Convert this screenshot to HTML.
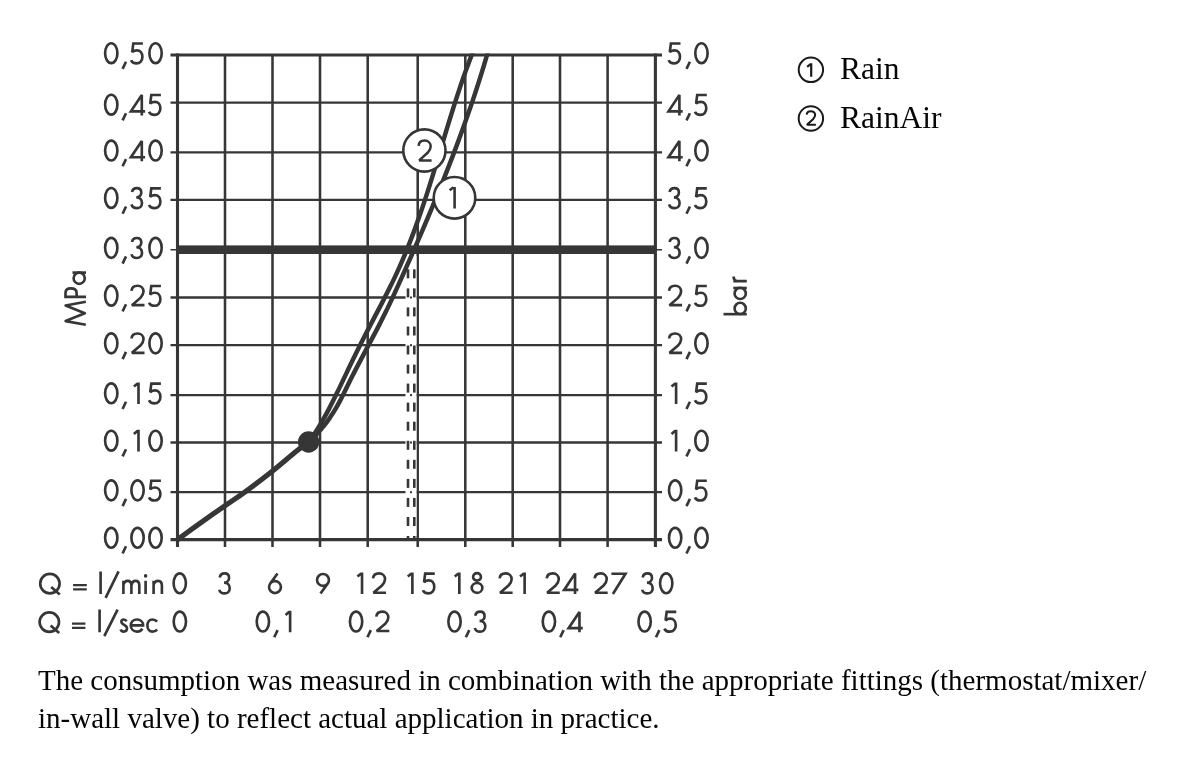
<!DOCTYPE html>
<html><head><meta charset="utf-8"><style>
html,body{margin:0;padding:0;background:#fff;}
body{width:1200px;height:765px;overflow:hidden;position:relative;font-family:"Liberation Sans",sans-serif;}
svg{position:absolute;left:0;top:0;will-change:transform;}
</style></head><body>
<svg width="1200" height="765" viewBox="0 0 1200 765">
<line x1="225.0" y1="55.0" x2="225.0" y2="547" stroke="#363636" stroke-width="2.55"/>
<line x1="272.5" y1="55.0" x2="272.5" y2="547" stroke="#363636" stroke-width="2.55"/>
<line x1="320.0" y1="55.0" x2="320.0" y2="547" stroke="#363636" stroke-width="2.55"/>
<line x1="367.7" y1="55.0" x2="367.7" y2="547" stroke="#363636" stroke-width="2.55"/>
<line x1="417.7" y1="55.0" x2="417.7" y2="547" stroke="#363636" stroke-width="2.55"/>
<line x1="465.3" y1="55.0" x2="465.3" y2="547" stroke="#363636" stroke-width="2.55"/>
<line x1="512.7" y1="55.0" x2="512.7" y2="547" stroke="#363636" stroke-width="2.55"/>
<line x1="560.0" y1="55.0" x2="560.0" y2="547" stroke="#363636" stroke-width="2.55"/>
<line x1="607.6" y1="55.0" x2="607.6" y2="547" stroke="#363636" stroke-width="2.55"/>
<line x1="170.5" y1="102.6" x2="662" y2="102.6" stroke="#363636" stroke-width="2.3"/>
<line x1="170.5" y1="152.4" x2="662" y2="152.4" stroke="#363636" stroke-width="2.3"/>
<line x1="170.5" y1="199.8" x2="662" y2="199.8" stroke="#363636" stroke-width="2.3"/>
<line x1="170.5" y1="297.5" x2="662" y2="297.5" stroke="#363636" stroke-width="2.3"/>
<line x1="170.5" y1="345.2" x2="662" y2="345.2" stroke="#363636" stroke-width="2.3"/>
<line x1="170.5" y1="395.1" x2="662" y2="395.1" stroke="#363636" stroke-width="2.3"/>
<line x1="170.5" y1="442.5" x2="662" y2="442.5" stroke="#363636" stroke-width="2.3"/>
<line x1="170.5" y1="492.2" x2="662" y2="492.2" stroke="#363636" stroke-width="2.3"/>
<line x1="170.5" y1="249.7" x2="662" y2="249.7" stroke="#363636" stroke-width="1.6"/>
<rect x="177.5" y="245.4" width="477.9" height="8.6" fill="#363636"/>
<line x1="177.5" y1="53.5" x2="177.5" y2="547" stroke="#363636" stroke-width="3.1"/>
<line x1="655.4" y1="53.5" x2="655.4" y2="547" stroke="#363636" stroke-width="3.1"/>
<line x1="170.5" y1="55" x2="662" y2="55" stroke="#363636" stroke-width="3.1"/>
<line x1="170.5" y1="539.6" x2="662" y2="539.6" stroke="#363636" stroke-width="3.1"/>
<rect x="405.5" y="256" width="11" height="280" fill="#fff"/>
<rect x="410" y="296.5" width="2" height="2" fill="#363636"/>
<rect x="410" y="344.2" width="2" height="2" fill="#363636"/>
<rect x="410" y="394.1" width="2" height="2" fill="#363636"/>
<rect x="410" y="441.5" width="2" height="2" fill="#363636"/>
<rect x="410" y="491.2" width="2" height="2" fill="#363636"/>
<line x1="408.0" y1="269.3" x2="408.0" y2="278.3" stroke="#363636" stroke-width="2.6"/>
<line x1="414.3" y1="269.3" x2="414.3" y2="278.3" stroke="#363636" stroke-width="2.6"/>
<line x1="408.0" y1="288.4" x2="408.0" y2="297.4" stroke="#363636" stroke-width="2.6"/>
<line x1="414.3" y1="288.4" x2="414.3" y2="297.4" stroke="#363636" stroke-width="2.6"/>
<line x1="408.0" y1="307.4" x2="408.0" y2="316.4" stroke="#363636" stroke-width="2.6"/>
<line x1="414.3" y1="307.4" x2="414.3" y2="316.4" stroke="#363636" stroke-width="2.6"/>
<line x1="408.0" y1="326.5" x2="408.0" y2="335.5" stroke="#363636" stroke-width="2.6"/>
<line x1="414.3" y1="326.5" x2="414.3" y2="335.5" stroke="#363636" stroke-width="2.6"/>
<line x1="408.0" y1="345.5" x2="408.0" y2="354.5" stroke="#363636" stroke-width="2.6"/>
<line x1="414.3" y1="345.5" x2="414.3" y2="354.5" stroke="#363636" stroke-width="2.6"/>
<line x1="408.0" y1="364.6" x2="408.0" y2="373.6" stroke="#363636" stroke-width="2.6"/>
<line x1="414.3" y1="364.6" x2="414.3" y2="373.6" stroke="#363636" stroke-width="2.6"/>
<line x1="408.0" y1="383.6" x2="408.0" y2="392.6" stroke="#363636" stroke-width="2.6"/>
<line x1="414.3" y1="383.6" x2="414.3" y2="392.6" stroke="#363636" stroke-width="2.6"/>
<line x1="408.0" y1="402.6" x2="408.0" y2="411.6" stroke="#363636" stroke-width="2.6"/>
<line x1="414.3" y1="402.6" x2="414.3" y2="411.6" stroke="#363636" stroke-width="2.6"/>
<line x1="408.0" y1="421.7" x2="408.0" y2="430.7" stroke="#363636" stroke-width="2.6"/>
<line x1="414.3" y1="421.7" x2="414.3" y2="430.7" stroke="#363636" stroke-width="2.6"/>
<line x1="408.0" y1="440.8" x2="408.0" y2="449.8" stroke="#363636" stroke-width="2.6"/>
<line x1="414.3" y1="440.8" x2="414.3" y2="449.8" stroke="#363636" stroke-width="2.6"/>
<line x1="408.0" y1="459.8" x2="408.0" y2="468.8" stroke="#363636" stroke-width="2.6"/>
<line x1="414.3" y1="459.8" x2="414.3" y2="468.8" stroke="#363636" stroke-width="2.6"/>
<line x1="408.0" y1="478.9" x2="408.0" y2="487.9" stroke="#363636" stroke-width="2.6"/>
<line x1="414.3" y1="478.9" x2="414.3" y2="487.9" stroke="#363636" stroke-width="2.6"/>
<line x1="408.0" y1="497.9" x2="408.0" y2="506.9" stroke="#363636" stroke-width="2.6"/>
<line x1="414.3" y1="497.9" x2="414.3" y2="506.9" stroke="#363636" stroke-width="2.6"/>
<line x1="408.0" y1="517.0" x2="408.0" y2="526.0" stroke="#363636" stroke-width="2.6"/>
<line x1="414.3" y1="517.0" x2="414.3" y2="526.0" stroke="#363636" stroke-width="2.6"/>
<line x1="408.0" y1="536.0" x2="408.0" y2="540.0" stroke="#363636" stroke-width="2.6"/>
<line x1="414.3" y1="536.0" x2="414.3" y2="540.0" stroke="#363636" stroke-width="2.6"/>
<clipPath id="cp"><rect x="170" y="53.6" width="500" height="500"/></clipPath>
<path d="M488.44,50.00 L487.12,54.60 L486.24,57.60 L485.36,60.60 L484.46,63.60 L483.56,66.60 L482.64,69.60 L481.72,72.60 L480.79,75.60 L479.85,78.60 L478.90,81.60 L477.94,84.60 L476.97,87.60 L475.99,90.60 L475.01,93.60 L474.01,96.60 L473.01,99.60 L472.00,102.60 L470.98,105.60 L469.96,108.60 L468.92,111.60 L467.88,114.60 L466.83,117.60 L465.77,120.60 L464.70,123.60 L463.63,126.60 L462.55,129.60 L461.46,132.60 L460.36,135.60 L459.26,138.60 L458.15,141.60 L457.03,144.60 L455.90,147.60 L454.77,150.60 L453.63,153.60 L452.49,156.60 L451.33,159.60 L450.17,162.60 L449.01,165.60 L447.84,168.60 L446.66,171.60 L445.47,174.60 L444.28,177.60 L443.09,180.60 L441.88,183.60 L440.68,186.60 L439.46,189.60 L438.24,192.60 L437.02,195.60 L435.78,198.60 L434.55,201.60 L433.31,204.60 L432.06,207.60 L430.81,210.60 L429.55,213.60 L428.29,216.60 L427.02,219.60 L425.75,222.60 L424.47,225.60 L423.19,228.60 L421.90,231.60 L420.61,234.60 L419.31,237.60 L418.01,240.60 L416.71,243.60 L415.40,246.60 L414.09,249.60 L412.78,252.60 L411.46,255.60 L410.13,258.60 L408.80,261.60 L407.47,264.60 L406.14,267.60 L404.80,270.60 L403.46,273.60 L402.12,276.60 L400.77,279.60 L399.42,282.60 L398.06,285.60 L396.70,288.60 L395.33,291.60 L393.96,294.60 L392.57,297.60 L391.17,300.60 L389.76,303.60 L388.33,306.60 L386.89,309.60 L385.43,312.60 L383.95,315.60 L382.45,318.60 L380.93,321.60 L379.39,324.60 L377.83,327.60 L376.26,330.60 L374.68,333.60 L373.09,336.60 L371.50,339.60 L369.90,342.60 L368.30,345.60 L366.70,348.60 L365.10,351.60 L363.51,354.60 L361.92,357.60 L360.34,360.60 L358.76,363.60 L357.20,366.60 L355.65,369.60 L354.11,372.60 L352.59,375.60 L351.09,378.60 L349.61,381.60 L348.14,384.60 L346.67,387.60 L345.20,390.60 L343.72,393.60 L342.21,396.60 L340.65,399.60 L339.06,402.60 L337.40,405.60 L335.67,408.60 L333.86,411.60 L331.97,414.60 L329.97,417.60 L327.86,420.60 L325.63,423.60 L323.26,426.60 L320.76,429.60 L318.10,432.60 L315.27,435.60 L312.27,438.60 L309.09,441.60 L308.60,442.00" fill="none" stroke="#363636" stroke-width="4.5" stroke-linejoin="round" clip-path="url(#cp)"/>
<path d="M473.58,50.00 L471.84,54.60 L470.69,57.60 L469.55,60.60 L468.43,63.60 L467.32,66.60 L466.23,69.60 L465.15,72.60 L464.08,75.60 L463.03,78.60 L461.99,81.60 L460.96,84.60 L459.94,87.60 L458.94,90.60 L457.94,93.60 L456.96,96.60 L455.98,99.60 L455.01,102.60 L454.05,105.60 L453.10,108.60 L452.16,111.60 L451.22,114.60 L450.29,117.60 L449.36,120.60 L448.44,123.60 L447.52,126.60 L446.60,129.60 L445.69,132.60 L444.79,135.60 L443.88,138.60 L442.97,141.60 L442.07,144.60 L441.17,147.60 L440.27,150.60 L439.36,153.60 L438.46,156.60 L437.55,159.60 L436.64,162.60 L435.73,165.60 L434.82,168.60 L433.90,171.60 L432.97,174.60 L432.05,177.60 L431.11,180.60 L430.17,183.60 L429.23,186.60 L428.28,189.60 L427.31,192.60 L426.35,195.60 L425.37,198.60 L424.38,201.60 L423.38,204.60 L422.38,207.60 L421.36,210.60 L420.33,213.60 L419.29,216.60 L418.23,219.60 L417.17,222.60 L416.09,225.60 L414.99,228.60 L413.88,231.60 L412.76,234.60 L411.61,237.60 L410.46,240.60 L409.28,243.60 L408.09,246.60 L406.88,249.60 L405.65,252.60 L404.41,255.60 L403.14,258.60 L401.85,261.60 L400.54,264.60 L399.21,267.60 L397.86,270.60 L396.49,273.60 L395.09,276.60 L393.67,279.60 L392.23,282.60 L390.76,285.60 L389.28,288.60 L387.77,291.60 L386.25,294.60 L384.72,297.60 L383.17,300.60 L381.62,303.60 L380.05,306.60 L378.48,309.60 L376.91,312.60 L375.33,315.60 L373.76,318.60 L372.19,321.60 L370.62,324.60 L369.06,327.60 L367.51,330.60 L365.97,333.60 L364.44,336.60 L362.92,339.60 L361.41,342.60 L359.91,345.60 L358.41,348.60 L356.93,351.60 L355.45,354.60 L353.98,357.60 L352.51,360.60 L351.05,363.60 L349.60,366.60 L348.15,369.60 L346.71,372.60 L345.27,375.60 L343.84,378.60 L342.41,381.60 L340.98,384.60 L339.54,387.60 L338.11,390.60 L336.66,393.60 L335.20,396.60 L333.72,399.60 L332.22,402.60 L330.69,405.60 L329.13,408.60 L327.54,411.60 L325.91,414.60 L324.25,417.60 L322.53,420.60 L320.77,423.60 L318.96,426.60 L317.09,429.60 L315.16,432.60 L313.16,435.60 L311.10,438.60 L308.97,441.60 L308.60,442.00" fill="none" stroke="#363636" stroke-width="4.5" stroke-linejoin="round" clip-path="url(#cp)"/>
<path d="M308.6,442.0 C306.6,443.5 302.3,446.4 296.3,451.2 C290.3,456.0 281.1,464.2 272.5,471.0 C263.9,477.8 252.8,486.4 244.8,492.2 C236.9,498.0 232.5,500.5 224.8,505.9 C217.1,511.2 206.4,518.7 198.5,524.3 C190.6,529.9 181.0,537.0 177.5,539.6" fill="none" stroke="#363636" stroke-width="5.2" stroke-linecap="butt"/>
<circle cx="308.6" cy="442" r="10.7" fill="#363636"/>
<circle cx="424.4" cy="150.5" r="21.1" fill="#fff" stroke="#363636" stroke-width="2.6"/>
<circle cx="454.5" cy="197.8" r="20.8" fill="#fff" stroke="#363636" stroke-width="2.6"/>
<path d="M418.6,145.8 C418.9,142.4 421.3,140.6 424.6,140.6 C428.3,140.6 430.7,143.2 430.7,146.5 C430.7,149 429.4,150.8 427.6,152.8 L419.2,160.4 L431.6,160.4" fill="none" stroke="#363636" stroke-width="2.5" stroke-linejoin="miter" stroke-miterlimit="2"/>
<path d="M449.6,190.2 L453.6,187.3 M454.6,186.9 L454.6,208.5" fill="none" stroke="#363636" stroke-width="2.6"/>
<g fill="none" stroke="#363636" stroke-width="2.65" stroke-linejoin="miter" stroke-miterlimit="2.2"><path transform="translate(103.60,63.90)" d="M1.5,-10.75 A6.15,9.95 0 1,0 13.8,-10.75 A6.15,9.95 0 1,0 1.5,-10.75"/><path transform="translate(121.60,63.90)" d="M4.4,-2.2 L1.0,5.0"/><path transform="translate(129.90,63.90)" d="M13.0,-20.4 L3.4,-20.4 L2.3,-11.8 C3.6,-13 5.2,-13.6 7.0,-13.6 C10.3,-13.6 12.5,-11 12.5,-7.1 C12.5,-3.1 10.1,-0.6 6.6,-0.6 C4.0,-0.6 2.0,-1.7 1.1,-3.7"/><path transform="translate(147.90,63.90)" d="M1.5,-10.75 A6.15,9.95 0 1,0 13.8,-10.75 A6.15,9.95 0 1,0 1.5,-10.75"/><path transform="translate(667.50,63.90)" d="M13.0,-20.4 L3.4,-20.4 L2.3,-11.8 C3.6,-13 5.2,-13.6 7.0,-13.6 C10.3,-13.6 12.5,-11 12.5,-7.1 C12.5,-3.1 10.1,-0.6 6.6,-0.6 C4.0,-0.6 2.0,-1.7 1.1,-3.7"/><path transform="translate(685.50,63.90)" d="M4.4,-2.2 L1.0,5.0"/><path transform="translate(693.80,63.90)" d="M1.5,-10.75 A6.15,9.95 0 1,0 13.8,-10.75 A6.15,9.95 0 1,0 1.5,-10.75"/><path transform="translate(103.60,115.40)" d="M1.5,-10.75 A6.15,9.95 0 1,0 13.8,-10.75 A6.15,9.95 0 1,0 1.5,-10.75"/><path transform="translate(121.60,115.40)" d="M4.4,-2.2 L1.0,5.0"/><path transform="translate(129.90,115.40)" d="M15.2,-4.1 L1.0,-4.1 L11.9,-20.4 L11.9,0"/><path transform="translate(147.90,115.40)" d="M13.0,-20.4 L3.4,-20.4 L2.3,-11.8 C3.6,-13 5.2,-13.6 7.0,-13.6 C10.3,-13.6 12.5,-11 12.5,-7.1 C12.5,-3.1 10.1,-0.6 6.6,-0.6 C4.0,-0.6 2.0,-1.7 1.1,-3.7"/><path transform="translate(667.50,115.40)" d="M15.2,-4.1 L1.0,-4.1 L11.9,-20.4 L11.9,0"/><path transform="translate(685.50,115.40)" d="M4.4,-2.2 L1.0,5.0"/><path transform="translate(693.80,115.40)" d="M13.0,-20.4 L3.4,-20.4 L2.3,-11.8 C3.6,-13 5.2,-13.6 7.0,-13.6 C10.3,-13.6 12.5,-11 12.5,-7.1 C12.5,-3.1 10.1,-0.6 6.6,-0.6 C4.0,-0.6 2.0,-1.7 1.1,-3.7"/><path transform="translate(103.60,161.30)" d="M1.5,-10.75 A6.15,9.95 0 1,0 13.8,-10.75 A6.15,9.95 0 1,0 1.5,-10.75"/><path transform="translate(121.60,161.30)" d="M4.4,-2.2 L1.0,5.0"/><path transform="translate(129.90,161.30)" d="M15.2,-4.1 L1.0,-4.1 L11.9,-20.4 L11.9,0"/><path transform="translate(147.90,161.30)" d="M1.5,-10.75 A6.15,9.95 0 1,0 13.8,-10.75 A6.15,9.95 0 1,0 1.5,-10.75"/><path transform="translate(667.50,161.30)" d="M15.2,-4.1 L1.0,-4.1 L11.9,-20.4 L11.9,0"/><path transform="translate(685.50,161.30)" d="M4.4,-2.2 L1.0,5.0"/><path transform="translate(693.80,161.30)" d="M1.5,-10.75 A6.15,9.95 0 1,0 13.8,-10.75 A6.15,9.95 0 1,0 1.5,-10.75"/><path transform="translate(103.60,208.70)" d="M1.5,-10.75 A6.15,9.95 0 1,0 13.8,-10.75 A6.15,9.95 0 1,0 1.5,-10.75"/><path transform="translate(121.60,208.70)" d="M4.4,-2.2 L1.0,5.0"/><path transform="translate(129.90,208.70)" d="M2.1,-16.6 C2.6,-19.3 4.4,-20.6 6.9,-20.6 C9.6,-20.6 11.4,-18.8 11.4,-16.1 C11.4,-13.2 9.3,-11.4 6.4,-11.4 C9.8,-11.4 12.1,-9.1 12.1,-5.8 C12.1,-2.6 9.9,-0.6 6.9,-0.6 C4.2,-0.6 2.2,-1.9 1.6,-4.3"/><path transform="translate(147.90,208.70)" d="M13.0,-20.4 L3.4,-20.4 L2.3,-11.8 C3.6,-13 5.2,-13.6 7.0,-13.6 C10.3,-13.6 12.5,-11 12.5,-7.1 C12.5,-3.1 10.1,-0.6 6.6,-0.6 C4.0,-0.6 2.0,-1.7 1.1,-3.7"/><path transform="translate(667.50,208.70)" d="M2.1,-16.6 C2.6,-19.3 4.4,-20.6 6.9,-20.6 C9.6,-20.6 11.4,-18.8 11.4,-16.1 C11.4,-13.2 9.3,-11.4 6.4,-11.4 C9.8,-11.4 12.1,-9.1 12.1,-5.8 C12.1,-2.6 9.9,-0.6 6.9,-0.6 C4.2,-0.6 2.2,-1.9 1.6,-4.3"/><path transform="translate(685.50,208.70)" d="M4.4,-2.2 L1.0,5.0"/><path transform="translate(693.80,208.70)" d="M13.0,-20.4 L3.4,-20.4 L2.3,-11.8 C3.6,-13 5.2,-13.6 7.0,-13.6 C10.3,-13.6 12.5,-11 12.5,-7.1 C12.5,-3.1 10.1,-0.6 6.6,-0.6 C4.0,-0.6 2.0,-1.7 1.1,-3.7"/><path transform="translate(103.60,258.60)" d="M1.5,-10.75 A6.15,9.95 0 1,0 13.8,-10.75 A6.15,9.95 0 1,0 1.5,-10.75"/><path transform="translate(121.60,258.60)" d="M4.4,-2.2 L1.0,5.0"/><path transform="translate(129.90,258.60)" d="M2.1,-16.6 C2.6,-19.3 4.4,-20.6 6.9,-20.6 C9.6,-20.6 11.4,-18.8 11.4,-16.1 C11.4,-13.2 9.3,-11.4 6.4,-11.4 C9.8,-11.4 12.1,-9.1 12.1,-5.8 C12.1,-2.6 9.9,-0.6 6.9,-0.6 C4.2,-0.6 2.2,-1.9 1.6,-4.3"/><path transform="translate(147.90,258.60)" d="M1.5,-10.75 A6.15,9.95 0 1,0 13.8,-10.75 A6.15,9.95 0 1,0 1.5,-10.75"/><path transform="translate(667.50,258.60)" d="M2.1,-16.6 C2.6,-19.3 4.4,-20.6 6.9,-20.6 C9.6,-20.6 11.4,-18.8 11.4,-16.1 C11.4,-13.2 9.3,-11.4 6.4,-11.4 C9.8,-11.4 12.1,-9.1 12.1,-5.8 C12.1,-2.6 9.9,-0.6 6.9,-0.6 C4.2,-0.6 2.2,-1.9 1.6,-4.3"/><path transform="translate(685.50,258.60)" d="M4.4,-2.2 L1.0,5.0"/><path transform="translate(693.80,258.60)" d="M1.5,-10.75 A6.15,9.95 0 1,0 13.8,-10.75 A6.15,9.95 0 1,0 1.5,-10.75"/><path transform="translate(103.60,306.40)" d="M1.5,-10.75 A6.15,9.95 0 1,0 13.8,-10.75 A6.15,9.95 0 1,0 1.5,-10.75"/><path transform="translate(121.60,306.40)" d="M4.4,-2.2 L1.0,5.0"/><path transform="translate(129.90,306.40)" d="M1.6,-15.6 C1.9,-19 4.3,-20.6 7.6,-20.6 C11.3,-20.6 13.6,-18.1 13.6,-14.8 C13.6,-12.3 12.3,-10.5 10.5,-8.5 L2.0,-1.25 L14.6,-1.25"/><path transform="translate(147.90,306.40)" d="M13.0,-20.4 L3.4,-20.4 L2.3,-11.8 C3.6,-13 5.2,-13.6 7.0,-13.6 C10.3,-13.6 12.5,-11 12.5,-7.1 C12.5,-3.1 10.1,-0.6 6.6,-0.6 C4.0,-0.6 2.0,-1.7 1.1,-3.7"/><path transform="translate(667.50,306.40)" d="M1.6,-15.6 C1.9,-19 4.3,-20.6 7.6,-20.6 C11.3,-20.6 13.6,-18.1 13.6,-14.8 C13.6,-12.3 12.3,-10.5 10.5,-8.5 L2.0,-1.25 L14.6,-1.25"/><path transform="translate(685.50,306.40)" d="M4.4,-2.2 L1.0,5.0"/><path transform="translate(693.80,306.40)" d="M13.0,-20.4 L3.4,-20.4 L2.3,-11.8 C3.6,-13 5.2,-13.6 7.0,-13.6 C10.3,-13.6 12.5,-11 12.5,-7.1 C12.5,-3.1 10.1,-0.6 6.6,-0.6 C4.0,-0.6 2.0,-1.7 1.1,-3.7"/><path transform="translate(103.60,354.10)" d="M1.5,-10.75 A6.15,9.95 0 1,0 13.8,-10.75 A6.15,9.95 0 1,0 1.5,-10.75"/><path transform="translate(121.60,354.10)" d="M4.4,-2.2 L1.0,5.0"/><path transform="translate(129.90,354.10)" d="M1.6,-15.6 C1.9,-19 4.3,-20.6 7.6,-20.6 C11.3,-20.6 13.6,-18.1 13.6,-14.8 C13.6,-12.3 12.3,-10.5 10.5,-8.5 L2.0,-1.25 L14.6,-1.25"/><path transform="translate(147.90,354.10)" d="M1.5,-10.75 A6.15,9.95 0 1,0 13.8,-10.75 A6.15,9.95 0 1,0 1.5,-10.75"/><path transform="translate(667.50,354.10)" d="M1.6,-15.6 C1.9,-19 4.3,-20.6 7.6,-20.6 C11.3,-20.6 13.6,-18.1 13.6,-14.8 C13.6,-12.3 12.3,-10.5 10.5,-8.5 L2.0,-1.25 L14.6,-1.25"/><path transform="translate(685.50,354.10)" d="M4.4,-2.2 L1.0,5.0"/><path transform="translate(693.80,354.10)" d="M1.5,-10.75 A6.15,9.95 0 1,0 13.8,-10.75 A6.15,9.95 0 1,0 1.5,-10.75"/><path transform="translate(103.60,404.00)" d="M1.5,-10.75 A6.15,9.95 0 1,0 13.8,-10.75 A6.15,9.95 0 1,0 1.5,-10.75"/><path transform="translate(121.60,404.00)" d="M4.4,-2.2 L1.0,5.0"/><path transform="translate(129.90,404.00)" d="M4.0,-17.4 L7.8,-20.6 M8.6,-21.6 V0"/><path transform="translate(147.90,404.00)" d="M13.0,-20.4 L3.4,-20.4 L2.3,-11.8 C3.6,-13 5.2,-13.6 7.0,-13.6 C10.3,-13.6 12.5,-11 12.5,-7.1 C12.5,-3.1 10.1,-0.6 6.6,-0.6 C4.0,-0.6 2.0,-1.7 1.1,-3.7"/><path transform="translate(667.50,404.00)" d="M4.0,-17.4 L7.8,-20.6 M8.6,-21.6 V0"/><path transform="translate(685.50,404.00)" d="M4.4,-2.2 L1.0,5.0"/><path transform="translate(693.80,404.00)" d="M13.0,-20.4 L3.4,-20.4 L2.3,-11.8 C3.6,-13 5.2,-13.6 7.0,-13.6 C10.3,-13.6 12.5,-11 12.5,-7.1 C12.5,-3.1 10.1,-0.6 6.6,-0.6 C4.0,-0.6 2.0,-1.7 1.1,-3.7"/><path transform="translate(103.60,451.40)" d="M1.5,-10.75 A6.15,9.95 0 1,0 13.8,-10.75 A6.15,9.95 0 1,0 1.5,-10.75"/><path transform="translate(121.60,451.40)" d="M4.4,-2.2 L1.0,5.0"/><path transform="translate(129.90,451.40)" d="M4.0,-17.4 L7.8,-20.6 M8.6,-21.6 V0"/><path transform="translate(147.90,451.40)" d="M1.5,-10.75 A6.15,9.95 0 1,0 13.8,-10.75 A6.15,9.95 0 1,0 1.5,-10.75"/><path transform="translate(667.50,451.40)" d="M4.0,-17.4 L7.8,-20.6 M8.6,-21.6 V0"/><path transform="translate(685.50,451.40)" d="M4.4,-2.2 L1.0,5.0"/><path transform="translate(693.80,451.40)" d="M1.5,-10.75 A6.15,9.95 0 1,0 13.8,-10.75 A6.15,9.95 0 1,0 1.5,-10.75"/><path transform="translate(103.60,501.10)" d="M1.5,-10.75 A6.15,9.95 0 1,0 13.8,-10.75 A6.15,9.95 0 1,0 1.5,-10.75"/><path transform="translate(121.60,501.10)" d="M4.4,-2.2 L1.0,5.0"/><path transform="translate(129.90,501.10)" d="M1.5,-10.75 A6.15,9.95 0 1,0 13.8,-10.75 A6.15,9.95 0 1,0 1.5,-10.75"/><path transform="translate(147.90,501.10)" d="M13.0,-20.4 L3.4,-20.4 L2.3,-11.8 C3.6,-13 5.2,-13.6 7.0,-13.6 C10.3,-13.6 12.5,-11 12.5,-7.1 C12.5,-3.1 10.1,-0.6 6.6,-0.6 C4.0,-0.6 2.0,-1.7 1.1,-3.7"/><path transform="translate(667.50,501.10)" d="M1.5,-10.75 A6.15,9.95 0 1,0 13.8,-10.75 A6.15,9.95 0 1,0 1.5,-10.75"/><path transform="translate(685.50,501.10)" d="M4.4,-2.2 L1.0,5.0"/><path transform="translate(693.80,501.10)" d="M13.0,-20.4 L3.4,-20.4 L2.3,-11.8 C3.6,-13 5.2,-13.6 7.0,-13.6 C10.3,-13.6 12.5,-11 12.5,-7.1 C12.5,-3.1 10.1,-0.6 6.6,-0.6 C4.0,-0.6 2.0,-1.7 1.1,-3.7"/><path transform="translate(103.60,548.50)" d="M1.5,-10.75 A6.15,9.95 0 1,0 13.8,-10.75 A6.15,9.95 0 1,0 1.5,-10.75"/><path transform="translate(121.60,548.50)" d="M4.4,-2.2 L1.0,5.0"/><path transform="translate(129.90,548.50)" d="M1.5,-10.75 A6.15,9.95 0 1,0 13.8,-10.75 A6.15,9.95 0 1,0 1.5,-10.75"/><path transform="translate(147.90,548.50)" d="M1.5,-10.75 A6.15,9.95 0 1,0 13.8,-10.75 A6.15,9.95 0 1,0 1.5,-10.75"/><path transform="translate(667.50,548.50)" d="M1.5,-10.75 A6.15,9.95 0 1,0 13.8,-10.75 A6.15,9.95 0 1,0 1.5,-10.75"/><path transform="translate(685.50,548.50)" d="M4.4,-2.2 L1.0,5.0"/><path transform="translate(693.80,548.50)" d="M1.5,-10.75 A6.15,9.95 0 1,0 13.8,-10.75 A6.15,9.95 0 1,0 1.5,-10.75"/><path transform="translate(172.10,594.00)" d="M1.5,-10.75 A6.15,9.95 0 1,0 13.8,-10.75 A6.15,9.95 0 1,0 1.5,-10.75"/><path transform="translate(217.65,594.00)" d="M2.1,-16.6 C2.6,-19.3 4.4,-20.6 6.9,-20.6 C9.6,-20.6 11.4,-18.8 11.4,-16.1 C11.4,-13.2 9.3,-11.4 6.4,-11.4 C9.8,-11.4 12.1,-9.1 12.1,-5.8 C12.1,-2.6 9.9,-0.6 6.9,-0.6 C4.2,-0.6 2.2,-1.9 1.6,-4.3"/><path transform="translate(267.70,594.00)" d="M9.8,-20.6 L2.46,-10.37 M13.25,-6.9 A5.95,5.95 0 1,1 1.35,-6.9 A5.95,5.95 0 1,1 13.25,-6.9"/><path transform="translate(315.70,594.00)" d="M4.8,-0.4 L12.14,-10.63 M1.35,-14.1 A5.95,5.95 0 1,1 13.25,-14.1 A5.95,5.95 0 1,1 1.35,-14.1"/><path transform="translate(353.43,594.00)" d="M4.0,-17.4 L7.8,-20.6 M8.6,-21.6 V0"/><path transform="translate(371.43,594.00)" d="M1.6,-15.6 C1.9,-19 4.3,-20.6 7.6,-20.6 C11.3,-20.6 13.6,-18.1 13.6,-14.8 C13.6,-12.3 12.3,-10.5 10.5,-8.5 L2.0,-1.25 L14.6,-1.25"/><path transform="translate(403.77,594.00)" d="M4.0,-17.4 L7.8,-20.6 M8.6,-21.6 V0"/><path transform="translate(421.77,594.00)" d="M13.0,-20.4 L3.4,-20.4 L2.3,-11.8 C3.6,-13 5.2,-13.6 7.0,-13.6 C10.3,-13.6 12.5,-11 12.5,-7.1 C12.5,-3.1 10.1,-0.6 6.6,-0.6 C4.0,-0.6 2.0,-1.7 1.1,-3.7"/><path transform="translate(450.73,594.00)" d="M4.0,-17.4 L7.8,-20.6 M8.6,-21.6 V0"/><path transform="translate(468.73,594.00)" d="M4.4,-17.1 A3.9,3.7 0 1,0 12.2,-17.1 A3.9,3.7 0 1,0 4.4,-17.1 M3.0,-6.1 A5.3,4.95 0 1,0 13.6,-6.1 A5.3,4.95 0 1,0 3.0,-6.1"/><path transform="translate(498.03,594.00)" d="M1.6,-15.6 C1.9,-19 4.3,-20.6 7.6,-20.6 C11.3,-20.6 13.6,-18.1 13.6,-14.8 C13.6,-12.3 12.3,-10.5 10.5,-8.5 L2.0,-1.25 L14.6,-1.25"/><path transform="translate(516.03,594.00)" d="M4.0,-17.4 L7.8,-20.6 M8.6,-21.6 V0"/><path transform="translate(545.15,594.00)" d="M1.6,-15.6 C1.9,-19 4.3,-20.6 7.6,-20.6 C11.3,-20.6 13.6,-18.1 13.6,-14.8 C13.6,-12.3 12.3,-10.5 10.5,-8.5 L2.0,-1.25 L14.6,-1.25"/><path transform="translate(563.15,594.00)" d="M15.2,-4.1 L1.0,-4.1 L11.9,-20.4 L11.9,0"/><path transform="translate(593.10,594.00)" d="M1.6,-15.6 C1.9,-19 4.3,-20.6 7.6,-20.6 C11.3,-20.6 13.6,-18.1 13.6,-14.8 C13.6,-12.3 12.3,-10.5 10.5,-8.5 L2.0,-1.25 L14.6,-1.25"/><path transform="translate(611.10,594.00)" d="M0.3,-20.3 L14.4,-20.3 L1.8,0"/><path transform="translate(640.57,594.00)" d="M2.1,-16.6 C2.6,-19.3 4.4,-20.6 6.9,-20.6 C9.6,-20.6 11.4,-18.8 11.4,-16.1 C11.4,-13.2 9.3,-11.4 6.4,-11.4 C9.8,-11.4 12.1,-9.1 12.1,-5.8 C12.1,-2.6 9.9,-0.6 6.9,-0.6 C4.2,-0.6 2.2,-1.9 1.6,-4.3"/><path transform="translate(658.57,594.00)" d="M1.5,-10.75 A6.15,9.95 0 1,0 13.8,-10.75 A6.15,9.95 0 1,0 1.5,-10.75"/><path transform="translate(172.20,632.30)" d="M1.5,-10.75 A6.15,9.95 0 1,0 13.8,-10.75 A6.15,9.95 0 1,0 1.5,-10.75"/><path transform="translate(255.23,632.30)" d="M1.5,-10.75 A6.15,9.95 0 1,0 13.8,-10.75 A6.15,9.95 0 1,0 1.5,-10.75"/><path transform="translate(273.23,632.30)" d="M4.4,-2.2 L1.0,5.0"/><path transform="translate(281.53,632.30)" d="M4.0,-17.4 L7.8,-20.6 M8.6,-21.6 V0"/><path transform="translate(348.43,632.30)" d="M1.5,-10.75 A6.15,9.95 0 1,0 13.8,-10.75 A6.15,9.95 0 1,0 1.5,-10.75"/><path transform="translate(366.43,632.30)" d="M4.4,-2.2 L1.0,5.0"/><path transform="translate(374.73,632.30)" d="M1.6,-15.6 C1.9,-19 4.3,-20.6 7.6,-20.6 C11.3,-20.6 13.6,-18.1 13.6,-14.8 C13.6,-12.3 12.3,-10.5 10.5,-8.5 L2.0,-1.25 L14.6,-1.25"/><path transform="translate(446.88,632.30)" d="M1.5,-10.75 A6.15,9.95 0 1,0 13.8,-10.75 A6.15,9.95 0 1,0 1.5,-10.75"/><path transform="translate(464.88,632.30)" d="M4.4,-2.2 L1.0,5.0"/><path transform="translate(473.18,632.30)" d="M2.1,-16.6 C2.6,-19.3 4.4,-20.6 6.9,-20.6 C9.6,-20.6 11.4,-18.8 11.4,-16.1 C11.4,-13.2 9.3,-11.4 6.4,-11.4 C9.8,-11.4 12.1,-9.1 12.1,-5.8 C12.1,-2.6 9.9,-0.6 6.9,-0.6 C4.2,-0.6 2.2,-1.9 1.6,-4.3"/><path transform="translate(541.25,632.30)" d="M1.5,-10.75 A6.15,9.95 0 1,0 13.8,-10.75 A6.15,9.95 0 1,0 1.5,-10.75"/><path transform="translate(559.25,632.30)" d="M4.4,-2.2 L1.0,5.0"/><path transform="translate(567.55,632.30)" d="M15.2,-4.1 L1.0,-4.1 L11.9,-20.4 L11.9,0"/><path transform="translate(636.98,632.30)" d="M1.5,-10.75 A6.15,9.95 0 1,0 13.8,-10.75 A6.15,9.95 0 1,0 1.5,-10.75"/><path transform="translate(654.98,632.30)" d="M4.4,-2.2 L1.0,5.0"/><path transform="translate(663.27,632.30)" d="M13.0,-20.4 L3.4,-20.4 L2.3,-11.8 C3.6,-13 5.2,-13.6 7.0,-13.6 C10.3,-13.6 12.5,-11 12.5,-7.1 C12.5,-3.1 10.1,-0.6 6.6,-0.6 C4.0,-0.6 2.0,-1.7 1.1,-3.7"/><circle cx="49.9" cy="583.6" r="9.7"/><path d="M51.2,586.9 L59.8,594.4"/><path d="M73.1,585.2 H86.8 M73.1,589.4 H86.8" stroke-width="2.2"/><path d="M100.6,571.4 V594 M118.6,571.4 L105.6,597.8"/><path d="M123.4,594 V580.8 M123.4,585 C124.1,582.2 125.6,580.8 127.6,580.8 C130,580.8 131.4,582.4 131.4,585.4 V594 M131.4,585.2 C132.1,582.2 133.6,580.8 135.5,580.8 C138,580.8 139.3,582.4 139.3,585.4 V594"/><path d="M145.6,580.8 V594"/><circle cx="145.6" cy="575.9" r="0.9" stroke-width="1.8"/><path d="M153.6,594 V580.8 M153.6,585 C154.4,582.2 156,580.8 158,580.8 C160.6,580.8 161.9,582.5 161.9,585.6 V594"/><circle cx="49.3" cy="622.1" r="9.7"/><path d="M50.6,625.4 L59.2,632.9"/><path d="M72.0,623.6 H85.4 M72.0,627.8 H85.4" stroke-width="2.2"/><path d="M99.6,609.6 V632.3 M117.6,609.6 L104.3,636.2"/><path d="M126.5,621.4 C125.9,620.1 124.9,619.5 123.8,619.5 C122.3,619.5 121.4,620.5 121.4,621.8 C121.4,625.2 127.0,624.6 127.0,628.3 C127.0,630.3 125.5,631.6 123.7,631.6 C122.2,631.6 121.1,630.8 120.5,629.4"/><path d="M130.8,625.4 H143.1 C143.1,621.9 140.4,619.5 137.0,619.5 C133.5,619.5 130.8,622.1 130.8,625.5 C130.8,629 133.5,631.6 137.0,631.6 C139.4,631.6 141.3,630.5 142.4,628.7"/><path d="M157.1,621.6 C156,620.2 154.3,619.5 152.4,619.5 C149.1,619.5 147.4,622.3 147.4,625.5 C147.4,628.9 149.4,631.6 152.5,631.6 C154.4,631.6 156.1,630.8 157.1,629.4"/><g transform="translate(86,325.6) rotate(-90)"><path d="M0.9,-0.2 L4.5,-20.4 L12.3,-1.2 L20.1,-20.4 L23.8,-0.2" stroke-linejoin="round"/><path d="M28.8,0 V-20.5 H32.9 C36.3,-20.5 37.2,-18.3 37.2,-15.2 C37.2,-12.1 36.3,-9.4 32.9,-9.4 H28.8"/><circle cx="47.4" cy="-6.8" r="5.6"/><path d="M53.0,-13.5 V0"/></g><g transform="translate(746.8,315.4) rotate(-90)"><path d="M1.25,-23.3 V0"/><circle cx="7.0" cy="-6.6" r="5.6"/><circle cx="22.0" cy="-6.6" r="5.6"/><path d="M27.4,-13.5 V0"/><path d="M34.3,0 V-13.5 M34.3,-10.2 C35.1,-12.4 36.6,-13.2 38.9,-13.2"/></g></g>
<circle cx="810.9" cy="69.8" r="12.2" fill="none" stroke="#1a1a1a" stroke-width="2"/>
<circle cx="810.9" cy="118.5" r="12.2" fill="none" stroke="#1a1a1a" stroke-width="2"/>
<path d="M807.2,66.8 L810.6,64.0 M811.2,63.2 L811.2,76.8" fill="none" stroke="#1a1a1a" stroke-width="2.2"/>
<path d="M806.7,114.6 C806.9,112.3 808.6,111.2 810.9,111.2 C813.4,111.2 815.1,113 815.1,115.1 C815.1,116.8 814.2,118 813,119.3 L806.9,124.8 L815.9,124.8" fill="none" stroke="#1a1a1a" stroke-width="2.1" stroke-miterlimit="2"/>
<text x="840.0" y="79.3" font-family="Liberation Serif, serif" font-size="31.5" fill="#050505">Rain</text>
<text x="840.0" y="127.6" font-family="Liberation Serif, serif" font-size="31.5" fill="#050505">RainAir</text>
<text x="38" y="689.6" font-family="Liberation Serif, serif" font-size="29" fill="#050505">The consumption was measured in combination with the appropriate fittings (thermostat/mixer/</text>
<text x="38" y="727.6" font-family="Liberation Serif, serif" font-size="29" fill="#050505">in-wall valve) to reflect actual application in practice.</text>
</svg>
</body></html>
